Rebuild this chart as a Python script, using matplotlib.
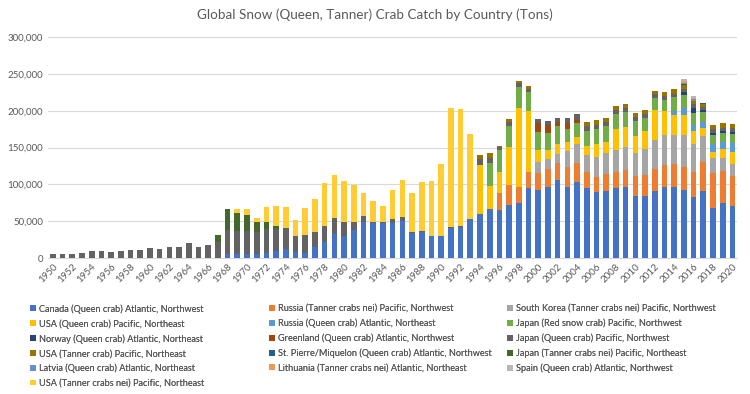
import matplotlib
matplotlib.use("Agg")
import matplotlib.pyplot as plt
import numpy as np

years = list(range(1950, 2021))

def series(d):
    return [d.get(y, 0) for y in years]

canada = series({1968: 5000, 1969: 5000, 1970: 5000, 1971: 5000, 1972: 7000, 1973: 10000, 1974: 12000,
                 1975: 7700, 1976: 7000, 1977: 15000, 1978: 21800, 1979: 33000, 1980: 30000, 1981: 38600,
                 1982: 49000, 1983: 48000, 1984: 48000, 1985: 47000, 1986: 50000, 1987: 34000, 1988: 35000,
                 1989: 30000, 1990: 30000, 1991: 41000, 1992: 42000, 1993: 52700, 1994: 60000, 1995: 66000,
                 1996: 65000, 1997: 71800, 1998: 75000, 1999: 95500, 2000: 93000, 2001: 95900, 2002: 105900,
                 2003: 96800, 2004: 103600, 2005: 94500, 2006: 89500, 2007: 91400, 2008: 94500, 2009: 96800,
                 2010: 84500, 2011: 84500, 2012: 91400, 2013: 96800, 2014: 95900, 2015: 92300, 2016: 82300,
                 2017: 91400, 2018: 67300, 2019: 74100, 2020: 70400})
russia_tanner = series({1996: 22700, 1997: 27300, 1998: 21800, 1999: 21800, 2000: 21800, 2001: 24500,
                        2002: 22700, 2003: 27300, 2004: 25000, 2005: 22700, 2006: 20000, 2007: 22700,
                        2008: 22700, 2009: 22700, 2010: 26800, 2011: 28200, 2012: 29100, 2013: 29500,
                        2014: 31800, 2015: 31800, 2016: 35000, 2017: 39500, 2018: 47700, 2019: 44100,
                        2020: 40900})
south_korea = series({2000: 15900, 2001: 13600, 2002: 12700, 2003: 20900, 2004: 26400, 2005: 22700,
                      2006: 27300, 2007: 28200, 2008: 29500, 2009: 30900, 2010: 31800, 2011: 35000,
                      2012: 39100, 2013: 40900, 2014: 39500, 2015: 43200, 2016: 37700, 2017: 35000,
                      2018: 20500, 2019: 17300, 2020: 15900})
usa_queen = series({1994: 66000, 1995: 32000, 1996: 29500, 1997: 51400, 1998: 106800, 1999: 81800,
                    2000: 15900, 2001: 12700, 2002: 13600, 2003: 13200, 2004: 10000, 2005: 12300,
                    2006: 18200, 2007: 15900, 2008: 28600, 2009: 27300, 2010: 23200, 2011: 25000,
                    2012: 40900, 2013: 31800, 2014: 26400, 2015: 27300, 2016: 17700, 2017: 10500,
                    2018: 8600, 2019: 12300, 2020: 17300})
russia_queen = series({2014: 5500, 2015: 9100, 2016: 8200, 2017: 7700, 2018: 10900, 2019: 9500, 2020: 12300})
japan_red = series({1995: 31000, 1996: 29500, 1997: 29000, 1998: 28600, 1999: 25900, 2000: 25000,
                    2001: 22700, 2002: 24500, 2003: 16800, 2004: 18200, 2005: 20500, 2006: 20000,
                    2007: 20500, 2008: 20500, 2009: 20500, 2010: 19100, 2011: 17300, 2012: 16800,
                    2013: 15900, 2014: 19100, 2015: 18200, 2016: 15900, 2017: 13600, 2018: 12300,
                    2019: 12300, 2020: 11800})
norway = series({2015: 3000, 2016: 7000, 2017: 3000, 2018: 2500, 2019: 2500, 2020: 2500})
greenland = series({2000: 11400, 2001: 11400, 2002: 5900, 2003: 8200, 2004: 4500})
japan_queen = series({1950: 5000, 1951: 5000, 1952: 5500, 1953: 7500, 1954: 9500, 1955: 9000, 1956: 8500,
                      1957: 9000, 1958: 11000, 1959: 11000, 1960: 13000, 1961: 12500, 1962: 15000,
                      1963: 15500, 1964: 20000, 1965: 15500, 1966: 18000, 1967: 22000, 1968: 33000,
                      1969: 32000, 1970: 32000, 1971: 30000, 1972: 33000, 1973: 30000, 1974: 28500,
                      1975: 22800, 1976: 24400, 1977: 20000, 1978: 21200, 1979: 21000, 1980: 19000,
                      1981: 10400, 1982: 7800, 1983: 1000, 1984: 1000, 1985: 6600, 1986: 5500, 1987: 2000,
                      1988: 2000, 1989: 500, 1990: 500, 1991: 1700, 1992: 1000, 1993: 900, 1994: 8000,
                      1995: 7000, 1996: 3400, 1997: 5000, 1998: 5000, 1999: 5000, 2000: 5500, 2001: 5500,
                      2002: 5000, 2003: 6400, 2004: 7700, 2005: 6000, 2006: 6000, 2007: 6000, 2008: 5500,
                      2009: 5500, 2010: 5500, 2011: 5500, 2012: 5000, 2013: 5000, 2014: 5000, 2015: 4500,
                      2016: 5000, 2017: 5000, 2018: 5000, 2019: 5000, 2020: 5000})
usa_tanner = series({1994: 6000, 1995: 6000, 1996: 2000, 1997: 4000, 1998: 3600, 1999: 4000, 2005: 5400,
                     2006: 6300, 2007: 4900, 2008: 4500, 2009: 5400, 2010: 5400, 2011: 5900, 2012: 5000,
                     2013: 5500, 2014: 6400, 2015: 6000, 2016: 4000, 2017: 3700, 2018: 6100, 2019: 6100,
                     2020: 5700})
st_pierre = series({2015: 500, 2016: 700, 2017: 500})
japan_tanner_nei = series({1967: 9500, 1968: 28000, 1969: 24000, 1970: 22000, 1971: 14000, 1972: 8500,
                           1973: 3600})
latvia = series({2015: 2000, 2016: 2500})
lithuania = series({2015: 2000, 2016: 1700})
spain = series({2015: 3400, 2016: 2500, 2017: 1000})
usa_tanner_nei = series({1969: 5000, 1970: 7000, 1971: 6000, 1972: 20500, 1973: 27400, 1974: 29000,
                         1975: 20500, 1976: 36300, 1977: 45000, 1978: 59000, 1979: 59000, 1980: 56000,
                         1981: 49600, 1982: 31200, 1983: 28000, 1984: 22000, 1985: 38400, 1986: 50500,
                         1987: 52000, 1988: 66600, 1989: 74500, 1990: 96500, 1991: 161300, 1992: 159000,
                         1993: 115400})

labels = ["Canada (Queen crab) Atlantic, Northwest",
          "Russia (Tanner crabs nei) Pacific, Northwest",
          "South Korea (Tanner crabs nei) Pacific, Northwest",
          "USA (Queen crab) Pacific, Northeast",
          "Russia (Queen crab) Atlantic, Northeast",
          "Japan (Red snow crab) Pacific, Northwest",
          "Norway (Queen crab) Atlantic, Northeast",
          "Greenland (Queen crab) Atlantic, Northwest",
          "Japan (Queen crab) Pacific, Northwest",
          "USA (Tanner crab) Pacific, Northeast",
          "St. Pierre/Miquelon (Queen crab) Atlantic, Northwest",
          "Japan (Tanner crabs nei) Pacific, Northeast",
          "Latvia (Queen crab) Atlantic, Northeast",
          "Lithuania (Tanner crabs nei) Atlantic, Northeast",
          "Spain (Queen crab) Atlantic, Northwest",
          "USA (Tanner crabs nei) Pacific, Northeast"]
data = [canada, russia_tanner, south_korea, usa_queen, russia_queen, japan_red, norway, greenland,
        japan_queen, usa_tanner, st_pierre, japan_tanner_nei, latvia, lithuania, spain, usa_tanner_nei]
colors = ["#4472C4", "#ED7D31", "#A5A5A5", "#FFC000", "#5B9BD5", "#70AD47", "#264478", "#9E480E",
          "#636363", "#997300", "#255E91", "#43682B", "#698ED0", "#F1975A", "#B7B7B7", "#FFCD33"]

fig = plt.figure(figsize=(7.5, 3.94), dpi=100)
ax = fig.add_axes([0.064, 0.345, 0.919, 0.561])
x = np.arange(len(years))
bottom = np.zeros(len(years))
handles = []
for vals, c, lab in zip(data, colors, labels):
    v = np.array(vals, dtype=float)
    b = ax.bar(x, v, bottom=bottom, width=0.58, color=c, label=lab, zorder=3)
    handles.append(b)
    bottom += v

ax.set_xlim(-0.5, len(years) - 0.5)
ax.set_ylim(0, 300000)
ax.set_yticks(np.arange(0, 300001, 50000))
ax.set_yticklabels([f"{v:,}" for v in range(0, 300001, 50000)])
ax.set_xticks(x[::2])
ax.set_xticklabels([str(y) for y in years[::2]], rotation=45, ha="right", rotation_mode="anchor")
ax.grid(axis="y", color="#D9D9D9", linewidth=0.8, zorder=0)
for s in ["top", "right", "left"]:
    ax.spines[s].set_visible(False)
ax.spines["bottom"].set_color("#D9D9D9")
ax.tick_params(axis="both", length=0, colors="#595959", labelsize=7)
ax.tick_params(axis="x", pad=3)
for t in ax.get_xticklabels() + ax.get_yticklabels():
    t.set_family("Lato")

fig.text(0.5, 0.962, "Global Snow (Queen, Tanner) Crab Catch by Country (Tons)", ha="center", va="center",
         fontsize=9.7, color="#595959", family="Lato")

cols = [[0, 3, 6, 9, 12, 15], [1, 4, 7, 10, 13], [2, 5, 8, 11, 14]]
xpos = [30 / 750, 269 / 750, 507 / 750]
for idxs, xp in zip(cols, xpos):
    leg = fig.legend([handles[i] for i in idxs], [labels[i] for i in idxs], loc="upper left",
                     bbox_to_anchor=(xp, 1 - 304 / 394), frameon=False, labelspacing=0.6,
                     handlelength=0.6, handleheight=0.6, handletextpad=0.35, borderaxespad=0, borderpad=0,
                     prop={"family": "Lato", "size": 6.6})
    for t in leg.get_texts():
        t.set_color("#595959")
    fig.add_artist(leg)

fig.savefig("out.png", dpi=100)
